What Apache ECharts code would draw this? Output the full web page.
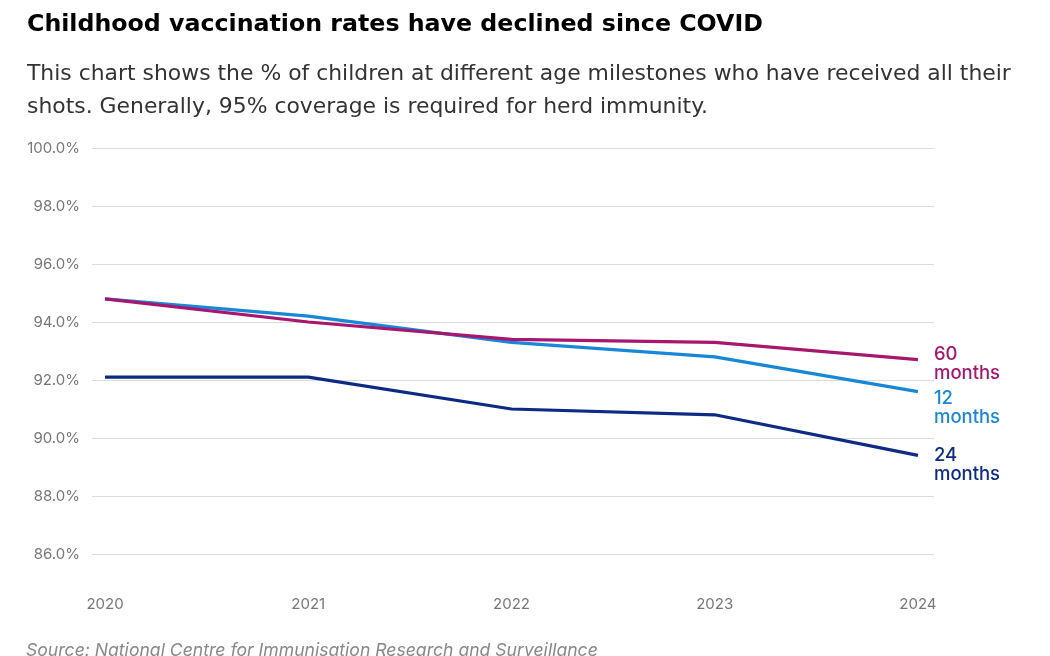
<!DOCTYPE html>
<html>
<head>
<meta charset="utf-8">
<script src="https://cdn.jsdelivr.net/npm/echarts@6/dist/echarts.min.js"></script>
<style>
  html, body { margin: 0; padding: 0; background: #fff; }
  #chart { width: 1050px; height: 656px; }
</style>
</head>
<body>
<div id="chart"></div>
<script>
var years = [2020, 2021, 2022, 2023, 2024];
var months12 = [94.8, 94.2, 93.3, 92.8, 91.6];
var months24 = [92.1, 92.1, 91.0, 90.8, 89.4];
var months60 = [94.8, 94.0, 93.4, 93.3, 92.7];

var FONT = 'Inter, "Noto Sans", sans-serif';
var WIDE = '"DejaVu Sans", sans-serif';

function pairs(values) {
	return years.map(function (y, i) { return [y, values[i]]; });
}

function makeSeries(name, values, color, label, offsetY) {
	return {
		name: name,
		type: 'line',
		data: pairs(values),
		symbol: 'none',
		lineStyle: { color: color, width: 3.2 },
		itemStyle: { color: color },
		emphasis: { disabled: true },
		endLabel: {
			show: true,
			formatter: label,
			color: color,
			fontFamily: FONT,
			fontSize: 18.5,
			fontWeight: 500,
			lineHeight: 19,
			distance: 16,
			offset: [0, offsetY]
		}
	};
}

var chart = echarts.init(document.getElementById('chart'));
var option = {
	animation: false,
	title: [
		{
			text: 'Childhood vaccination rates have declined since COVID',
			left: 22,
			top: 8,
			textStyle: { fontFamily: WIDE, fontSize: 23.7, fontWeight: 'bold', color: '#000' }
		},
		{
			text: 'This chart shows the % of children at different age milestones who have received all their\nshots. Generally, 95% coverage is required for herd immunity.',
			left: 22,
			top: 53,
			textStyle: { fontFamily: WIDE, fontSize: 21.9, fontWeight: 400, color: '#333', lineHeight: 33 }
		}
	],
	graphic: [
		{
			type: 'text',
			left: 26,
			top: 642,
			style: {
				text: 'Source: National Centre for Immunisation Research and Surveillance',
				fill: '#888',
				font: 'italic 17.6px ' + FONT
			}
		}
	],
	grid: { left: 92, right: 116, top: 148, bottom: 102 },
	xAxis: {
		type: 'value',
		min: 2019.936,
		max: 2024.079,
		axisLine: { show: false },
		axisTick: { show: false },
		splitLine: { show: false },
		axisLabel: {
			customValues: years,
			color: '#777',
			fontFamily: FONT,
			fontSize: 15,
			margin: 43,
			formatter: function (v) { return String(v); }
		}
	},
	yAxis: {
		type: 'value',
		min: 86,
		max: 100,
		interval: 2,
		axisLine: { show: false },
		axisTick: { show: false },
		splitLine: { lineStyle: { color: '#dcdcdc', width: 1 } },
		axisLabel: {
			color: '#777',
			fontFamily: FONT,
			fontSize: 15,
			margin: 12,
			formatter: function (v) { return v.toFixed(1) + '%'; }
		}
	},
	series: [
		makeSeries('24 months', months24, '#0d2b85', '24\nmonths', 10),
		makeSeries('12 months', months12, '#1887d6', '12\nmonths', 16),
		makeSeries('60 months', months60, '#a8176f', '60\nmonths', 4)
	]
};
chart.setOption(option);
</script>
</body>
</html>
